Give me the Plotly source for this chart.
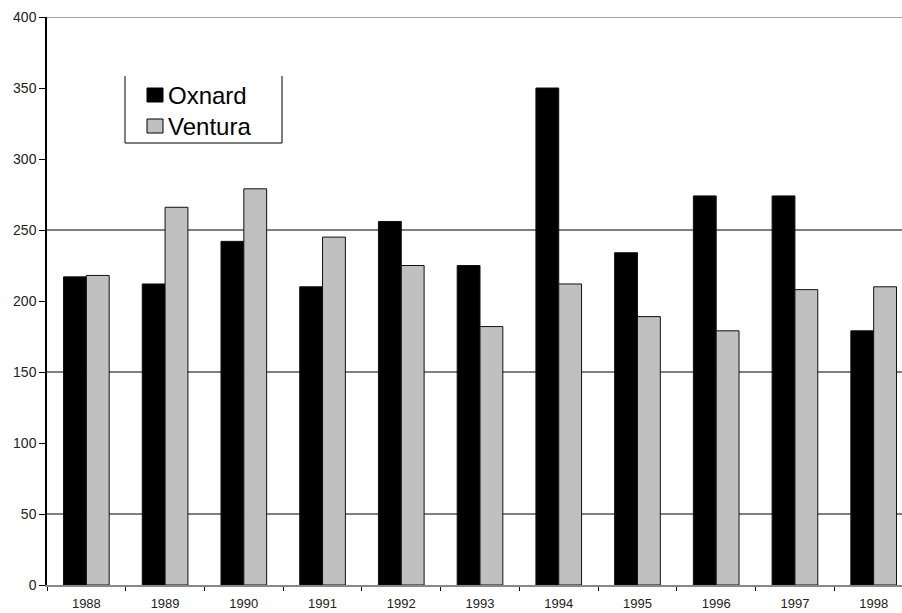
import plotly.graph_objects as go

years = ["1988", "1989", "1990", "1991", "1992", "1993", "1994", "1995", "1996", "1997", "1998"]
oxnard = [217, 212, 242, 210, 256, 225, 350, 234, 274, 274, 179]
ventura = [218, 266, 279, 245, 225, 182, 212, 189, 179, 208, 210]
series_names = ["Oxnard", "Ventura"]
series_colors = ["#000000", "#c0c0c0"]
y_ticks = [0, 50, 100, 150, 200, 250, 300, 350, 400]
grid_levels = [50, 150, 250]

# plot-area geometry in pixels, used to place the legend in paper units
W, H = 902, 613
ML, MR, MT, MB = 47, 0, 17, 28
PW, PH = W - ML - MR, H - MT - MB


def px_x(p):
    return (p - ML) / PW


def px_y(p):
    return (H - MB - p) / PH


fig = go.Figure()
for name, vals, col in zip(series_names, [oxnard, ventura], series_colors):
    fig.add_trace(go.Bar(
        x=years, y=vals, name=name, showlegend=False,
        marker=dict(color=col, line=dict(color="#111111", width=1)),
    ))

# horizontal reference lines behind the bars
for lvl in grid_levels:
    fig.add_shape(type="line", xref="paper", x0=0, x1=1, yref="y", y0=lvl, y1=lvl,
                  line=dict(color="#000000", width=1), layer="below")
fig.add_shape(type="line", xref="paper", x0=0, x1=1, yref="y", y0=400, y1=400,
              line=dict(color="#888888", width=1.5), layer="below")

# legend frame (left, right and bottom edges)
lx0, lx1, ly0, ly1 = px_x(125), px_x(282), px_y(143), px_y(76)
for (a, b, c, d) in [(lx0, ly0, lx0, ly1), (lx1, ly0, lx1, ly1), (lx0, ly0, lx1, ly0)]:
    fig.add_shape(type="line", xref="paper", yref="paper", x0=a, y0=b, x1=c, y1=d,
                  line=dict(color="#000000", width=1))

# legend swatches and labels
for i, (name, col) in enumerate(zip(series_names, series_colors)):
    top = 88 + i * 31
    fig.add_shape(type="rect", xref="paper", yref="paper",
                  x0=px_x(147), x1=px_x(163), y0=px_y(top + 14), y1=px_y(top),
                  fillcolor=col, line=dict(color="#000000", width=1))
    fig.add_annotation(xref="paper", yref="paper", x=px_x(166), y=px_y(top + 7),
                       text=name, showarrow=False, xanchor="left", yanchor="middle",
                       font=dict(size=24, color="#000000"))

fig.update_layout(
    width=W, height=H,
    margin=dict(l=ML, r=MR, t=MT, b=MB),
    paper_bgcolor="white", plot_bgcolor="white",
    barmode="group", bargap=0.42, bargroupgap=0,
    font=dict(family="Liberation Sans, Arial, sans-serif", color="#222222", size=14),
    showlegend=False,
    xaxis=dict(
        type="category", range=[-0.5, 10.36],
        showgrid=False, showline=True, linecolor="#888888", linewidth=1.5,
        ticks="outside", tickson="boundaries", ticklen=4, tickcolor="#000000",
        tickfont=dict(size=13), zeroline=False, ticklabelstandoff=6,
    ),
    yaxis=dict(
        range=[0, 400], tickvals=y_ticks, showgrid=False, zeroline=False,
        showline=True, linecolor="#000000", linewidth=1.5,
        ticks="outside", ticklen=6, tickcolor="#000000",
        tickfont=dict(size=14),
    ),
)

fig.write_html("out.html")
